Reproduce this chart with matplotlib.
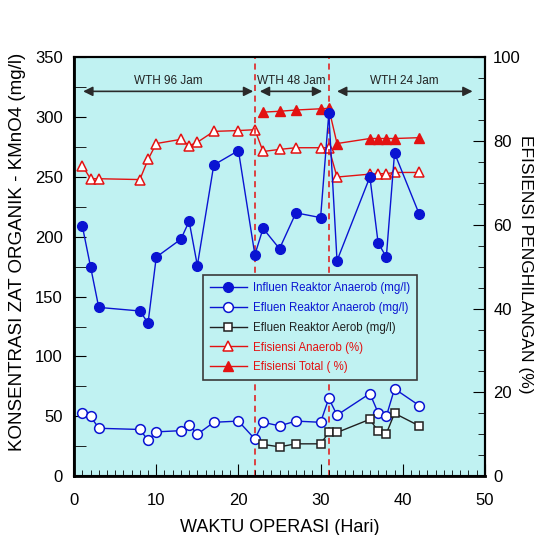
import matplotlib
matplotlib.use("Agg")
import matplotlib.pyplot as plt
from matplotlib.ticker import MultipleLocator

plt.rcParams['font.family'] = ['Liberation Sans', 'DejaVu Sans']

# Data
inf_x = [1, 2, 3, 8, 9, 10, 13, 14, 15, 17, 20, 22, 23, 25, 27, 30, 31, 32, 36, 37, 38, 39, 42]
inf_y = [209, 175, 141, 138, 128, 183, 198, 213, 176, 260, 272, 185, 207, 190, 220, 216, 303, 180, 250, 195, 183, 270, 219]

efa_x = [1, 2, 3, 8, 9, 10, 13, 14, 15, 17, 20, 22, 23, 25, 27, 30, 31, 32, 36, 37, 38, 39, 42]
efa_y = [53, 50, 40, 39, 30, 37, 38, 43, 35, 45, 46, 31, 45, 42, 46, 45, 65, 51, 69, 53, 50, 73, 59]

efb_x = [23, 25, 27, 30, 31, 32, 36, 37, 38, 39, 42]
efb_y = [26.5, 24.5, 27, 27, 36.5, 36.5, 47.5, 37.5, 35.5, 52.5, 42]

eana_x = [1, 2, 3, 8, 9, 10, 13, 14, 15, 17, 20, 22, 23, 25, 27, 30, 31, 32, 36, 37, 38, 39, 42]
eana_y = [74.1, 71.0, 71.0, 70.8, 75.6, 79.4, 80.4, 78.9, 79.7, 82.3, 82.5, 82.7, 77.5, 78.0, 78.4, 78.4, 78.4, 71.4, 72.1, 72.2, 72.2, 72.5, 72.5]

etot_x = [23, 25, 27, 30, 31, 32, 36, 37, 38, 39, 42]
etot_y = [86.9, 87.1, 87.4, 87.7, 87.8, 79.4, 80.6, 80.6, 80.6, 80.6, 80.8]

phase_lines = [22, 31]
phases = [("WTH 96 Jam", 1.1, 21.8), ("WTH 48 Jam", 22.6, 30.2), ("WTH 24 Jam", 32.0, 48.5)]

bg = '#C0F2F2'
blue = '#0A14D2'
red = '#E31212'

fig = plt.figure(figsize=(5.37, 5.35), dpi=100)
ax = fig.add_axes([0.138, 0.110, 0.765, 0.783])
ax2 = ax.twinx()

ax.set_xlim(0, 50)
ax.set_ylim(0, 350)
ax2.set_ylim(0, 100)

for xv in phase_lines:
    ax.axvline(xv, color=red, ls=(0, (4, 3)), lw=1.1, zorder=1)

l1, = ax.plot(inf_x, inf_y, '-o', color=blue, mfc=blue, mec=blue, ms=7, lw=1, zorder=4,
              label='Influen Reaktor Anaerob (mg/l)')
l2, = ax.plot(efa_x, efa_y, '-o', color=blue, mfc='white', mec=blue, ms=7, mew=1.1, lw=1, zorder=4,
              label='Efluen Reaktor Anaerob (mg/l)')
l3, = ax.plot(efb_x, efb_y, '-s', color='#202020', mfc='white', mec='#202020', ms=6, mew=1.1, lw=1, zorder=4,
              label='Efluen Reaktor Aerob (mg/l)')
l4, = ax2.plot(eana_x, eana_y, '-^', color=red, mfc='white', mec=red, ms=7, mew=1.1, lw=1, zorder=3,
               label='Efisiensi Anaerob (%)')
l5, = ax2.plot(etot_x, etot_y, '-^', color=red, mfc=red, mec=red, ms=7, lw=1, zorder=3,
               label='Efisiensi Total ( %)')

for name, x0, x1 in phases:
    ax.annotate('', xy=(x0, 321.5), xytext=(x1, 321.5),
                arrowprops=dict(arrowstyle='<|-|>', color='#2a2a2a', lw=1.2, mutation_scale=14,
                                shrinkA=0, shrinkB=0))
    ax.text((x0 + x1) / 2, 325.5, name, ha='center', va='bottom', fontsize=8.5, color='#222222')

ax.xaxis.set_major_locator(MultipleLocator(10))
ax.xaxis.set_minor_locator(MultipleLocator(1))
ax.yaxis.set_major_locator(MultipleLocator(50))
ax.yaxis.set_minor_locator(MultipleLocator(25))
ax2.yaxis.set_major_locator(MultipleLocator(20))
ax2.yaxis.set_minor_locator(MultipleLocator(5))

ax.tick_params(axis='x', which='major', direction='in', length=8.6, labelsize=12, top=False, pad=12)
ax.tick_params(axis='x', which='minor', direction='in', length=4.5, top=False)
ax.tick_params(axis='y', which='both', direction='in', length=8.6, labelsize=12, right=False, pad=8)
ax2.tick_params(axis='y', which='major', direction='in', length=8.6, labelsize=12, pad=6)
ax2.tick_params(axis='y', which='minor', direction='in', length=5)

for s in ax.spines.values():
    s.set_linewidth(1.5)
for s in ax2.spines.values():
    s.set_linewidth(1.5)
ax.spines['left'].set_linewidth(2)
ax.spines['bottom'].set_linewidth(2)

ax.set_xlabel('WAKTU OPERASI (Hari)', fontsize=13, labelpad=8)
ax.set_ylabel('KONSENTRASI ZAT ORGANIK - KMnO4 (mg/l)', fontsize=13.5, va='bottom')
ax.yaxis.set_label_coords(-0.117, 0.535)
ax2.set_ylabel('EFISIENSI PENGHILANGAN (%)', fontsize=12.5, rotation=-90, va='center', ha='center')
ax2.yaxis.set_label_coords(1.100, 0.505)

ax.patch.set_visible(False)
ax2.patch.set_visible(True)
ax2.set_facecolor(bg)
ax2.set_zorder(0)
ax.set_zorder(1)

leg = ax.legend(handles=[l1, l2, l3, l4, l5], loc='upper left', bbox_to_anchor=(0.314, 0.480),
                fontsize=8.3, frameon=True, fancybox=False, edgecolor='#3a3a3a',
                facecolor=bg, framealpha=1, borderpad=0.6, labelspacing=0.68,
                handlelength=3.2, handletextpad=0.5, borderaxespad=0)
leg.get_frame().set_linewidth(1.2)
for txt, c in zip(leg.get_texts(), [blue, blue, '#202020', red, red]):
    txt.set_color(c)

fig.savefig('out.png', dpi=100)
